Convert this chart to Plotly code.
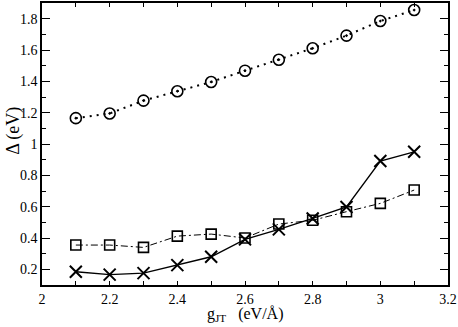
import plotly.graph_objects as go

# coupling constant g_JT (eV/Å)
g_jt = [2.1, 2.2, 2.3, 2.4, 2.5, 2.6, 2.7, 2.8, 2.9, 3.0, 3.1]

# gaps Delta (eV)
delta_circle = [1.165, 1.195, 1.277, 1.337, 1.396, 1.468, 1.538, 1.611, 1.692, 1.785, 1.855]
delta_cross = [0.185, 0.166, 0.176, 0.227, 0.280, 0.391, 0.455, 0.525, 0.598, 0.891, 0.950]
delta_square = [0.355, 0.355, 0.340, 0.412, 0.425, 0.400, 0.489, 0.513, 0.568, 0.621, 0.706]

FONT = "Liberation Serif"

fig = go.Figure()

fig.add_trace(go.Scatter(
    x=g_jt, y=delta_circle, mode="lines+markers",
    line=dict(color="black", width=2, dash="2px,5px"),
    marker=dict(symbol="circle-open-dot", size=11, color="black",
                line=dict(width=1.6, color="black")),
))
fig.add_trace(go.Scatter(
    x=g_jt, y=delta_square, mode="lines+markers",
    line=dict(color="black", width=1, dash="7px,3px,2px,3px"),
    marker=dict(symbol="square-open", size=10, color="black",
                line=dict(width=1.6, color="black")),
))
fig.add_trace(go.Scatter(
    x=g_jt, y=delta_cross, mode="lines+markers",
    line=dict(color="black", width=1.4),
    marker=dict(symbol="x-thin-open", size=12, color="black",
                line=dict(width=2, color="black")),
))

fig.update_layout(
    width=458, height=327,
    showlegend=False,
    plot_bgcolor="white", paper_bgcolor="white",
    margin=dict(l=42, r=10, t=1, b=42),
    font=dict(family=FONT, size=14, color="black"),
    xaxis=dict(
        range=[2, 3.2], dtick=0.2, tick0=2,
        ticks="inside", ticklen=4, tickcolor="black",
        minor=dict(dtick=0.1, ticks="inside", ticklen=4, tickcolor="black"),
        showline=True, linecolor="black", linewidth=1.5, mirror="ticks",
        showgrid=False, zeroline=False,
    ),
    yaxis=dict(
        range=[0.1, 1.9], dtick=0.2, tick0=0,
        ticks="inside", ticklen=8, tickcolor="black",
        minor=dict(dtick=0.1, ticks="inside", ticklen=4, tickcolor="black"),
        showline=True, linecolor="black", linewidth=1.5, mirror="ticks",
        showgrid=False, zeroline=False,
    ),
    annotations=[
        dict(text="g<sub>JT</sub>&nbsp;&nbsp;&nbsp;(eV/Å)", xref="paper", yref="paper",
             x=0.5, y=-0.105, xanchor="center", yanchor="middle", showarrow=False,
             font=dict(family=FONT, size=16)),
        dict(text="Δ (eV)", xref="paper", yref="paper", textangle=-90,
             x=-0.072, y=0.546, xanchor="center", yanchor="middle", showarrow=False,
             font=dict(family=FONT, size=18)),
    ],
)

# drop the default 8px body margin so the figure sits at the window corner
fig.write_html("out.html", config={"displayModeBar": False},
               post_script="document.body.style.margin='0';")
